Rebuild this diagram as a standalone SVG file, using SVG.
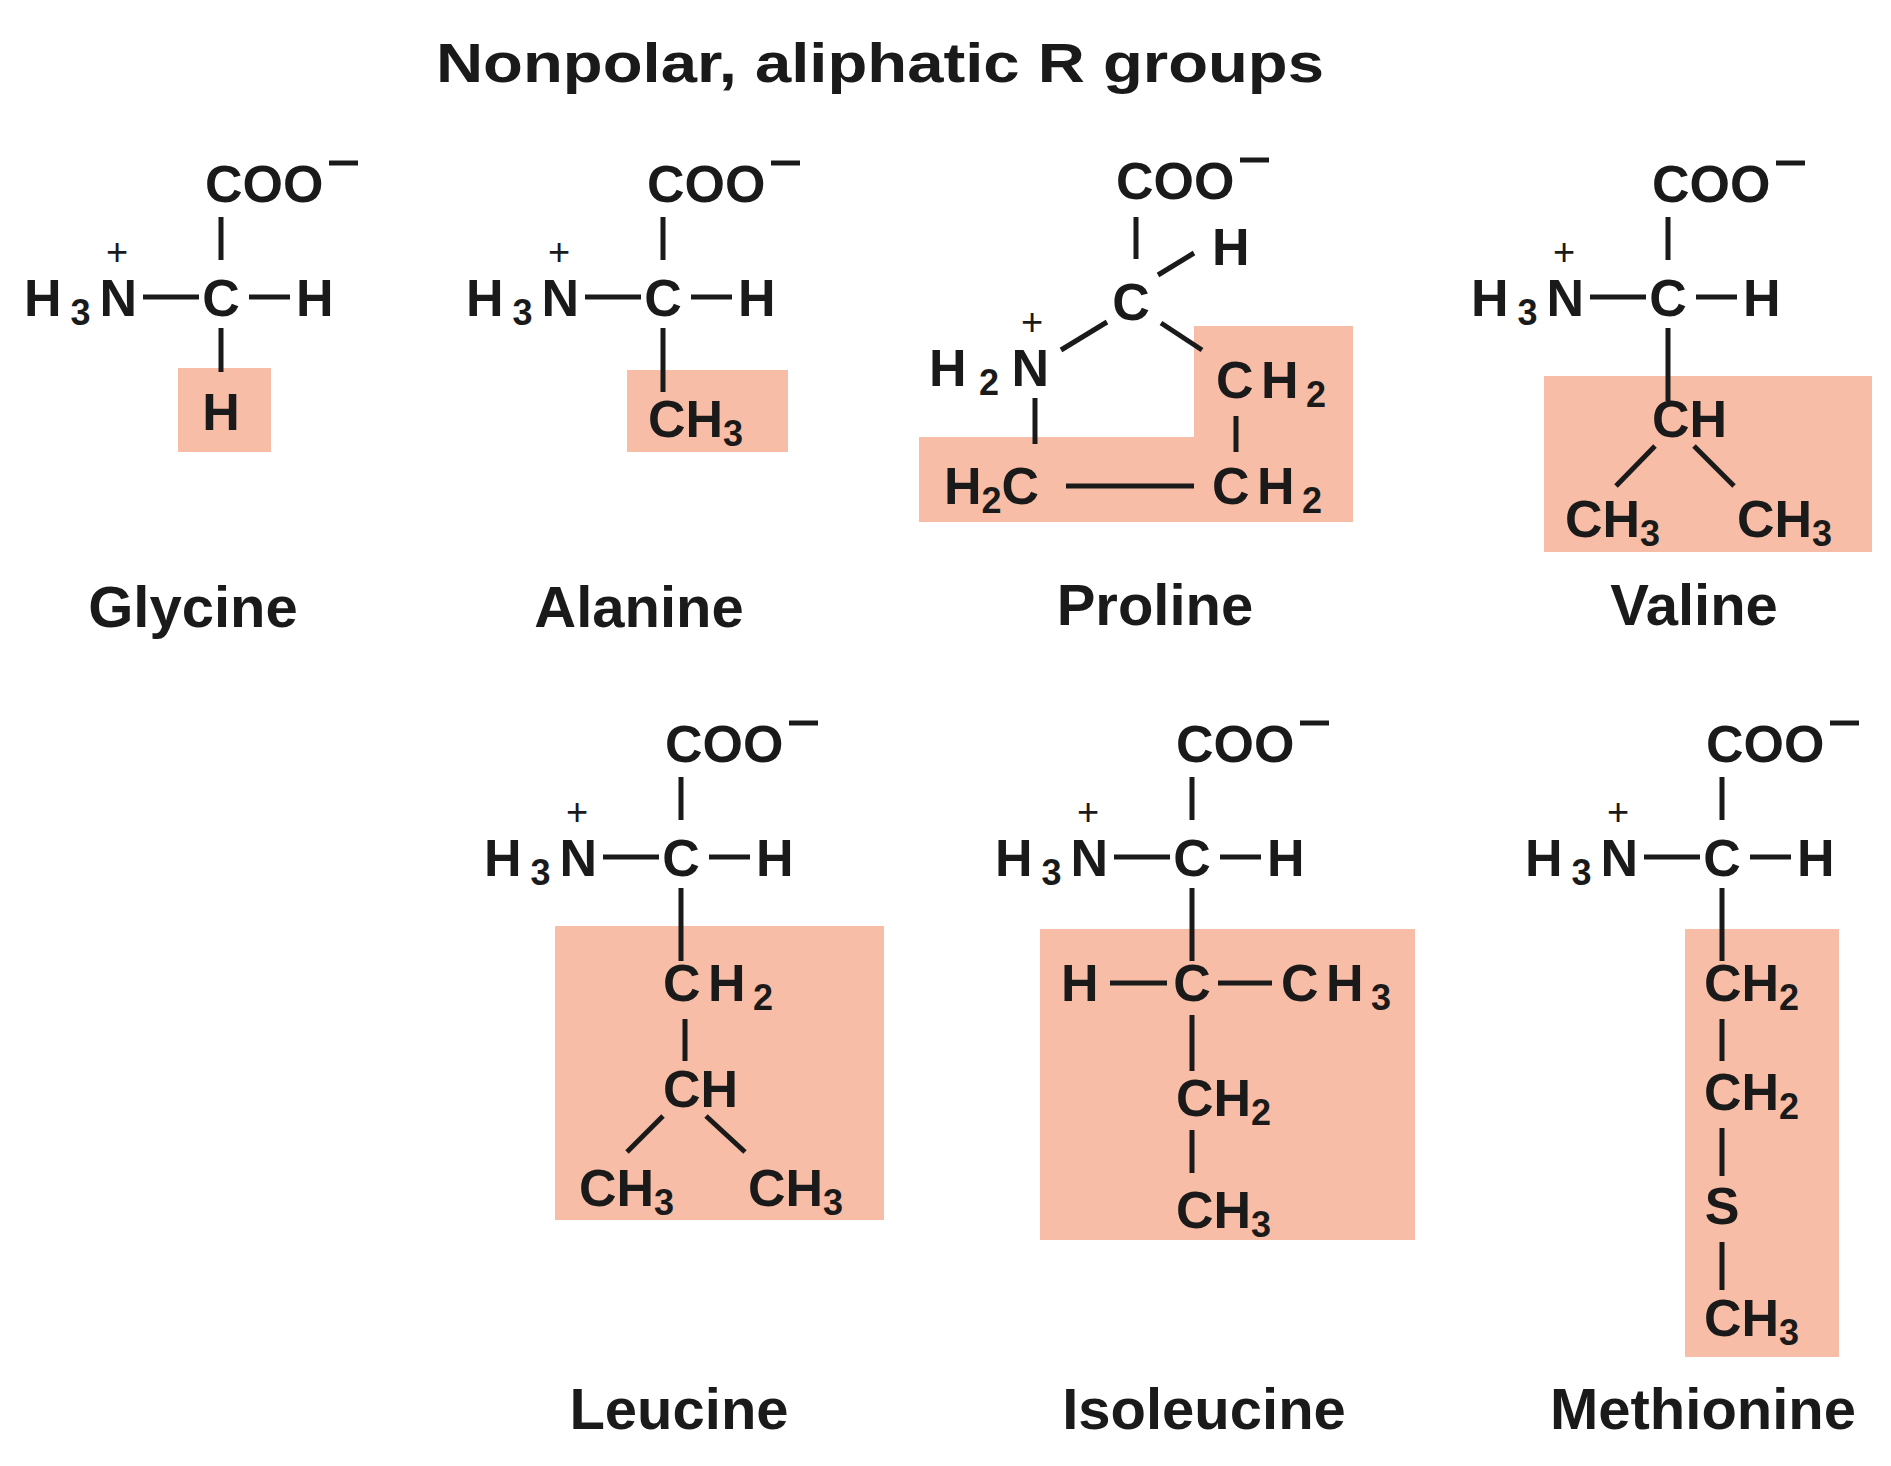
<svg xmlns="http://www.w3.org/2000/svg" width="1891" height="1466" viewBox="0 0 1891 1466">
<style>
text{font-family:"Liberation Sans",Arial,sans-serif;font-weight:bold;fill:#1a1a1a}
.f{font-size:52px}
.sub{font-size:36px}
.pl{font-size:38px;font-weight:normal}
.nm{font-size:58px}
.tt{font-size:56px}
.b{stroke:#1a1a1a;stroke-width:5;fill:none}
.box{fill:#f8bda6}
.m{text-anchor:middle}
</style>
<rect width="1891" height="1466" fill="#fff"/>
<text class="tt m" x="880" y="82" textLength="888" lengthAdjust="spacingAndGlyphs">Nonpolar, aliphatic R groups</text>

<g id="boxes">
<rect class="box" x="178" y="368" width="93" height="84"/>
<rect class="box" x="627" y="370" width="161" height="82"/>
<polygon class="box" points="1194,326 1353,326 1353,522 919,522 919,437 1194,437"/>
<rect class="box" x="1544" y="376" width="328" height="176"/>
<rect class="box" x="555" y="926" width="329" height="294"/>
<rect class="box" x="1040" y="929" width="375" height="311"/>
<rect class="box" x="1685" y="929" width="154" height="428"/>
</g>

<g id="glycine" transform="translate(221,297)">
<text class="f" x="-16" y="-95">COO</text><line class="b" x1="108" y1="-134" x2="137" y2="-134"/>
<text class="pl m" x="-104" y="-32">+</text>
<text class="f" x="-197" y="19" textLength="113">H<tspan class="sub" dy="9">3</tspan><tspan dy="-9">N</tspan></text>
<text class="f m" x="0" y="19">C</text>
<text class="f" x="75" y="19">H</text>
<g class="b"><line x1="0" y1="-80" x2="0" y2="-37"/><line x1="-78" y1="0" x2="-22" y2="0"/><line x1="28" y1="0" x2="69" y2="0"/><line x1="0" y1="31" x2="0" y2="75"/></g>
<text class="f m" x="0" y="133">H</text>
<text class="nm m" x="-28" y="330">Glycine</text>
</g>

<g id="alanine" transform="translate(663,297)">
<text class="f" x="-16" y="-95">COO</text><line class="b" x1="108" y1="-134" x2="137" y2="-134"/>
<text class="pl m" x="-104" y="-32">+</text>
<text class="f" x="-197" y="19" textLength="113">H<tspan class="sub" dy="9">3</tspan><tspan dy="-9">N</tspan></text>
<text class="f m" x="0" y="19">C</text>
<text class="f" x="75" y="19">H</text>
<g class="b"><line x1="0" y1="-80" x2="0" y2="-37"/><line x1="-78" y1="0" x2="-22" y2="0"/><line x1="28" y1="0" x2="69" y2="0"/><line x1="0" y1="31" x2="0" y2="95"/></g>
<text class="f" x="-15" y="140">CH<tspan class="sub" dy="9">3</tspan></text>
<text class="nm m" x="-24" y="330">Alanine</text>
</g>

<g id="proline">
<text class="f" x="1116" y="199">COO</text><line class="b" x1="1240" y1="160" x2="1269" y2="160"/>
<text class="f m" x="1131" y="320">C</text>
<text class="f" x="1212" y="265">H</text>
<text class="pl m" x="1032" y="335">+</text>
<text class="f" x="929" y="386" textLength="120">H<tspan class="sub" dy="9">2</tspan><tspan dy="-9">N</tspan></text>
<text class="f" x="1216" y="398" textLength="110">CH<tspan class="sub" dy="9">2</tspan></text>
<text class="f" x="944" y="504">H<tspan class="sub" dy="9">2</tspan><tspan dy="-9">C</tspan></text>
<text class="f" x="1212" y="504" textLength="110">CH<tspan class="sub" dy="9">2</tspan></text>
<g class="b"><line x1="1136" y1="217" x2="1136" y2="259"/><line x1="1158" y1="275" x2="1194" y2="253"/><line x1="1061" y1="350" x2="1107" y2="322"/><line x1="1161" y1="323" x2="1202" y2="350"/><line x1="1236" y1="416" x2="1236" y2="452"/><line x1="1066" y1="486" x2="1194" y2="486"/><line x1="1035" y1="398" x2="1035" y2="444"/></g>
<text class="nm m" x="1155" y="625">Proline</text>
</g>

<g id="valine" transform="translate(1668,297)">
<text class="f" x="-16" y="-95">COO</text><line class="b" x1="108" y1="-134" x2="137" y2="-134"/>
<text class="pl m" x="-104" y="-32">+</text>
<text class="f" x="-197" y="19" textLength="113">H<tspan class="sub" dy="9">3</tspan><tspan dy="-9">N</tspan></text>
<text class="f m" x="0" y="19">C</text>
<text class="f" x="75" y="19">H</text>
<g class="b"><line x1="0" y1="-80" x2="0" y2="-37"/><line x1="-78" y1="0" x2="-22" y2="0"/><line x1="28" y1="0" x2="69" y2="0"/><line x1="0" y1="31" x2="0" y2="104"/><line x1="-13" y1="149" x2="-52" y2="189"/><line x1="26" y1="149" x2="66" y2="189"/></g>
<text class="f" x="-16" y="140">CH</text>
<text class="f" x="-103" y="240">CH<tspan class="sub" dy="9">3</tspan></text>
<text class="f" x="69" y="240">CH<tspan class="sub" dy="9">3</tspan></text>
<text class="nm m" x="26" y="328">Valine</text>
</g>

<g id="leucine" transform="translate(681,857)">
<text class="f" x="-16" y="-95">COO</text><line class="b" x1="108" y1="-134" x2="137" y2="-134"/>
<text class="pl m" x="-104" y="-32">+</text>
<text class="f" x="-197" y="19" textLength="113">H<tspan class="sub" dy="9">3</tspan><tspan dy="-9">N</tspan></text>
<text class="f m" x="0" y="19">C</text>
<text class="f" x="75" y="19">H</text>
<g class="b"><line x1="0" y1="-80" x2="0" y2="-37"/><line x1="-78" y1="0" x2="-22" y2="0"/><line x1="28" y1="0" x2="69" y2="0"/><line x1="0" y1="31" x2="0" y2="104"/><line x1="4" y1="162" x2="4" y2="204"/><line x1="-18" y1="259" x2="-54" y2="295"/><line x1="25" y1="259" x2="64" y2="295"/></g>
<text class="f" x="-18" y="144" textLength="110">CH<tspan class="sub" dy="9">2</tspan></text>
<text class="f" x="-18" y="250">CH</text>
<text class="f" x="-102" y="349">CH<tspan class="sub" dy="9">3</tspan></text>
<text class="f" x="67" y="349">CH<tspan class="sub" dy="9">3</tspan></text>
<text class="nm m" x="-2" y="572">Leucine</text>
</g>

<g id="isoleucine" transform="translate(1192,857)">
<text class="f" x="-16" y="-95">COO</text><line class="b" x1="108" y1="-134" x2="137" y2="-134"/>
<text class="pl m" x="-104" y="-32">+</text>
<text class="f" x="-197" y="19" textLength="113">H<tspan class="sub" dy="9">3</tspan><tspan dy="-9">N</tspan></text>
<text class="f m" x="0" y="19">C</text>
<text class="f" x="75" y="19">H</text>
<g class="b"><line x1="0" y1="-80" x2="0" y2="-37"/><line x1="-78" y1="0" x2="-22" y2="0"/><line x1="28" y1="0" x2="69" y2="0"/><line x1="0" y1="31" x2="0" y2="104"/><line x1="-82" y1="126" x2="-25" y2="126"/><line x1="26" y1="126" x2="80" y2="126"/><line x1="0" y1="158" x2="0" y2="214"/><line x1="0" y1="273" x2="0" y2="316"/></g>
<text class="f" x="-131" y="144">H</text>
<text class="f m" x="0" y="144">C</text>
<text class="f" x="89" y="144" textLength="110">CH<tspan class="sub" dy="9">3</tspan></text>
<text class="f" x="-16" y="259">CH<tspan class="sub" dy="9">2</tspan></text>
<text class="f" x="-16" y="371">CH<tspan class="sub" dy="9">3</tspan></text>
<text class="nm m" x="12" y="572">Isoleucine</text>
</g>

<g id="methionine" transform="translate(1722,857)">
<text class="f" x="-16" y="-95">COO</text><line class="b" x1="108" y1="-134" x2="137" y2="-134"/>
<text class="pl m" x="-104" y="-32">+</text>
<text class="f" x="-197" y="19" textLength="113">H<tspan class="sub" dy="9">3</tspan><tspan dy="-9">N</tspan></text>
<text class="f m" x="0" y="19">C</text>
<text class="f" x="75" y="19">H</text>
<g class="b"><line x1="0" y1="-80" x2="0" y2="-37"/><line x1="-78" y1="0" x2="-22" y2="0"/><line x1="28" y1="0" x2="69" y2="0"/><line x1="0" y1="31" x2="0" y2="104"/><line x1="0" y1="162" x2="0" y2="204"/><line x1="0" y1="271" x2="0" y2="319"/><line x1="0" y1="385" x2="0" y2="433"/></g>
<text class="f" x="-18" y="144">CH<tspan class="sub" dy="9">2</tspan></text>
<text class="f" x="-18" y="253">CH<tspan class="sub" dy="9">2</tspan></text>
<text class="f m" x="0" y="367">S</text>
<text class="f" x="-18" y="479">CH<tspan class="sub" dy="9">3</tspan></text>
<text class="nm m" x="-19" y="572">Methionine</text>
</g>
</svg>
